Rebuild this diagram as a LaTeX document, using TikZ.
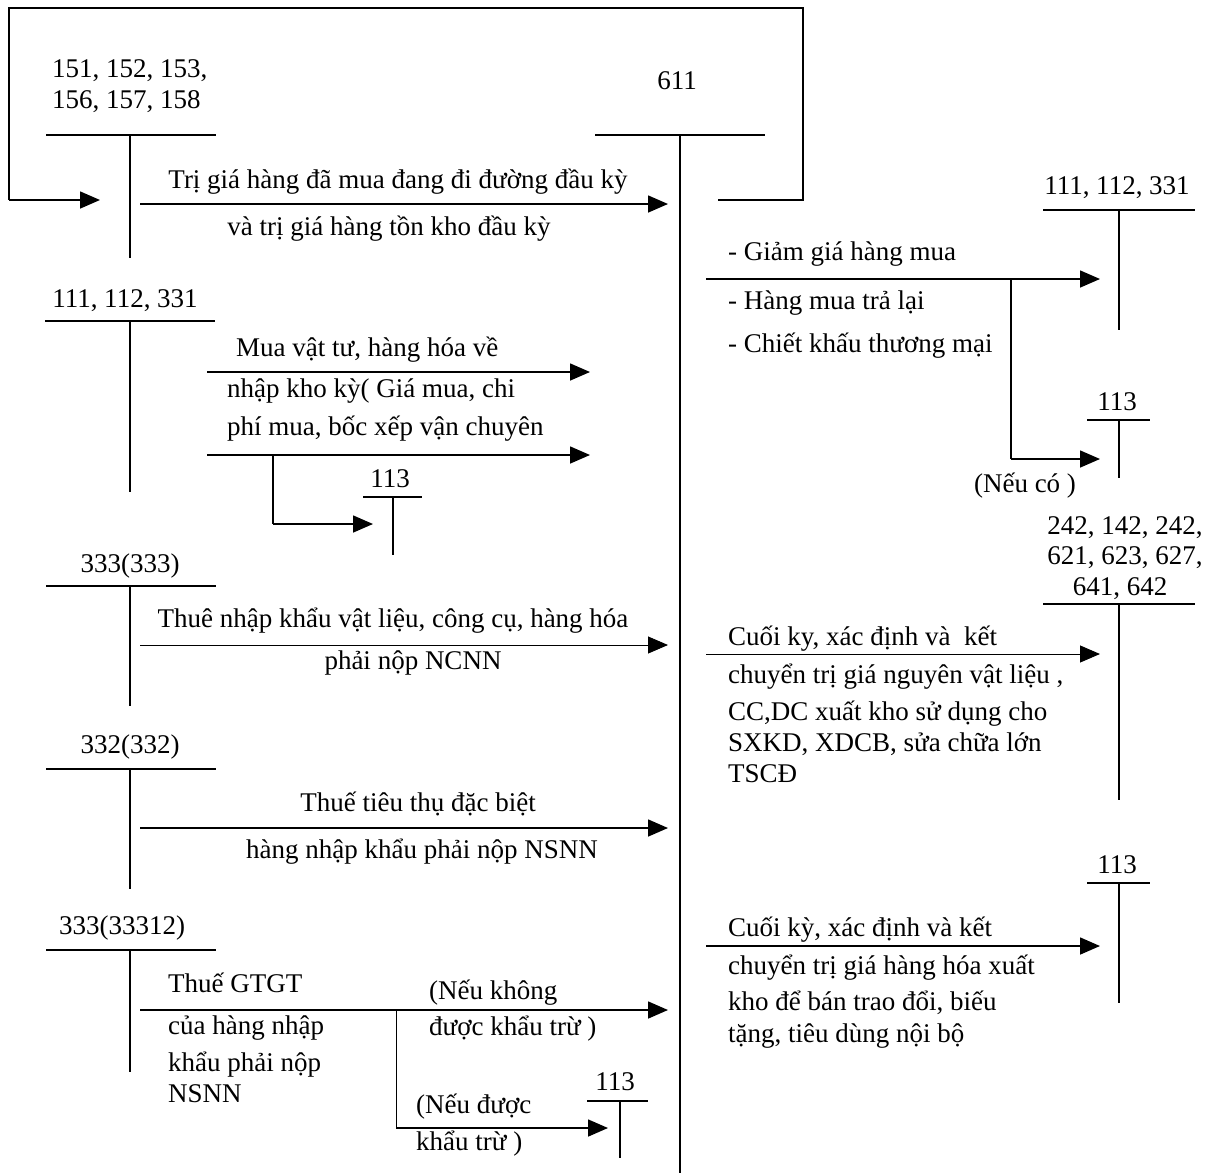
\documentclass[tikz,border=0pt]{standalone}
\usepackage{fontspec}
\setmainfont{Liberation Serif}
\usetikzlibrary{arrows.meta}
\begin{document}
\begin{tikzpicture}[x=1pt,y=-1pt,
  txt/.style={inner sep=0pt,yshift=-5pt,font=\fontsize{27}{32}\selectfont},
  lt/.style={txt,anchor=mid west},
  ct/.style={txt,anchor=mid},
  tline/.style={line width=1.3pt},
  flow/.style={line width=1.6pt,-{Triangle[length=20pt,width=17pt]}},
  plain/.style={line width=1.6pt}]
\useasboundingbox (0,0) rectangle (1207,1173);
\fill[white] (0,0) rectangle (1207,1173);

% ---- T accounts ----
% 151...
\node[lt] (a151) at (52,70) {151, 152, 153,};
\node[lt] (a156) at (52,101) {156, 157, 158};
\draw[tline] (46,135) -- (216,135);
\draw[tline] (130,135) -- (130,258);
% 611
\node[ct] (a611) at (677,82) {611};
\draw[tline] (595,135) -- (765,135);
\draw[tline] (680,135) -- (680,1173);
% 111,112,331 left
\node[ct] (aL111) at (125,300) {111, 112, 331};
\draw[tline] (45,321) -- (215,321);
\draw[tline] (130,321) -- (130,492);
% 113 small left
\node[ct] (aL113) at (390,480) {113};
\draw[tline] (363,497) -- (422,497);
\draw[tline] (393,497) -- (393,555);
% 333(333)
\node[ct] (a333) at (130,565) {333(333)};
\draw[tline] (46,586) -- (216,586);
\draw[tline] (130,586) -- (130,706);
% 332(332)
\node[ct] (a332) at (130,746) {332(332)};
\draw[tline] (46,769) -- (216,769);
\draw[tline] (130,769) -- (130,889);
% 333(33312)
\node[ct] (a33312) at (122,927) {333(33312)};
\draw[tline] (46,950) -- (216,950);
\draw[tline] (130,950) -- (130,1072);
% 113 bottom
\node[ct] (aB113) at (615,1083) {113};
\draw[tline] (587,1101) -- (648,1101);
\draw[tline] (620,1101) -- (620,1158);
% right 111,112,331
\node[ct] (aR111) at (1117,187) {111, 112, 331};
\draw[tline] (1043,210) -- (1195,210);
\draw[tline] (1119,210) -- (1119,330);
% right 113 (a)
\node[ct] (aR113a) at (1117,403) {113};
\draw[tline] (1087,420) -- (1150,420);
\draw[tline] (1119,420) -- (1119,478);
% right 242...
\node[ct] (aR242a) at (1125,527) {242, 142, 242,};
\node[ct] (aR242b) at (1125,557) {621, 623, 627,};
\node[ct] (aR242c) at (1120,588) {641, 642};
\draw[tline] (1043,604) -- (1195,604);
\draw[tline] (1119,604) -- (1119,800);
% right 113 (b)
\node[ct] (aR113b) at (1117,866) {113};
\draw[tline] (1087,883) -- (1150,883);
\draw[tline] (1119,883) -- (1119,1003);

% ---- connectors ----
% top loop
\coordinate (loopA) at (718,200);
\coordinate (loopB) at (803,200);
\coordinate (loopC) at (803,8);
\coordinate (loopD) at (9,8);
\coordinate (loopE) at (9,200);
\coordinate (loopF) at (100,200);
\draw[line width=1.3pt] (loopA) -- (loopB) -- (loopC) -- (loopD) -- (loopE);
\draw[flow] (loopE) -- (loopF);

\coordinate (f1s) at (140,204); \coordinate (f1e) at (668,204);
\draw[flow] (f1s) -- (f1e);
\node[ct] at (398,181) {Trị giá hàng đã mua đang đi đường đầu kỳ};
\node[ct] at (389,228) {và trị giá hàng tồn kho đầu kỳ};

% purchases
\coordinate (f2s) at (207,372); \coordinate (f2e) at (590,372);
\draw[flow] (f2s) -- (f2e);
\coordinate (f3s) at (207,455); \coordinate (f3e) at (590,455);
\draw[flow] (f3s) -- (f3e);
\coordinate (f3b) at (273,455); \coordinate (f3c) at (273,524); \coordinate (f3d) at (373,524);
\draw[plain] (f3b) -- (f3c);
\draw[flow] (f3c) -- (f3d);
\node[lt] at (236,349) {Mua vật tư, hàng hóa về};
\node[lt] at (227,390) {nhập kho kỳ( Giá mua, chi};
\node[lt] at (227,428) {phí mua, bốc xếp vận chuyên};

% import tax
\coordinate (f4s) at (140,645); \coordinate (f4e) at (668,645);
\draw[line width=0.9pt,-{Triangle[length=20pt,width=17pt]}] (f4s) -- (f4e);
\node[ct] at (393,620) {Thuê nhập khẩu vật liệu, công cụ, hàng hóa};
\node[ct] at (413,662) {phải nộp NCNN};

% special consumption
\coordinate (f5s) at (140,828); \coordinate (f5e) at (668,828);
\draw[flow] (f5s) -- (f5e);
\node[ct] at (418,804) {Thuế tiêu thụ đặc biệt};
\node[ct] at (422,851) {hàng nhập khẩu phải nộp NSNN};

% VAT
\coordinate (f6s) at (140,1010); \coordinate (f6e) at (668,1010);
\draw[flow] (f6s) -- (f6e);
\coordinate (f6b) at (396,1010); \coordinate (f6c) at (396,1128); \coordinate (f6d) at (608,1128);
\draw[line width=1pt] (f6b) -- (f6c);
\draw[flow] (f6c) -- (f6d);
\node[lt] at (168,985) {Thuế GTGT};
\node[lt] at (168,1027) {của hàng nhập};
\node[lt] at (168,1064) {khẩu phải nộp};
\node[lt] at (168,1095) {NSNN};
\node[lt] at (429,992) {(Nếu không};
\node[lt] at (429,1028) {được khẩu trừ )};
\node[lt] at (416,1106) {(Nếu được};
\node[lt] at (416,1143) {khẩu trừ )};

% right: returns
\coordinate (g1s) at (706,279); \coordinate (g1e) at (1100,279);
\draw[flow] (g1s) -- (g1e);
\coordinate (g1b) at (1011,279); \coordinate (g1c) at (1011,459); \coordinate (g1d) at (1100,459);
\draw[plain] (g1b) -- (g1c);
\draw[flow] (g1c) -- (g1d);
\node[lt] at (728,253) {- Giảm giá hàng mua};
\node[lt] at (728,302) {- Hàng mua trả lại};
\node[lt] at (728,345) {- Chiết khấu thương mại};
\node[ct] at (1025,485) {(Nếu có )};

% right: materials
\coordinate (g2s) at (706,654); \coordinate (g2e) at (1100,654);
\draw[line width=1pt,-{Triangle[length=20pt,width=17pt]}] (g2s) -- (g2e);
\node[lt] at (728,638) {Cuối ky, xác định và\ \ kết};
\node[lt] at (728,676) {chuyển trị giá nguyên vật liệu ,};
\node[lt] at (728,713) {CC,DC xuất kho sử dụng cho};
\node[lt] at (728,744) {SXKD, XDCB, sửa chữa lớn};
\node[lt] at (728,775) {TSCĐ};

% right: goods
\coordinate (g3s) at (706,946); \coordinate (g3e) at (1100,946);
\draw[flow] (g3s) -- (g3e);
\node[lt] at (728,929) {Cuối kỳ, xác định và kết};
\node[lt] at (728,967) {chuyển trị giá hàng hóa xuất};
\node[lt] at (728,1003) {kho để bán trao đổi, biếu};
\node[lt] at (728,1035) {tặng, tiêu dùng nội bộ};
\end{tikzpicture}
\end{document}
